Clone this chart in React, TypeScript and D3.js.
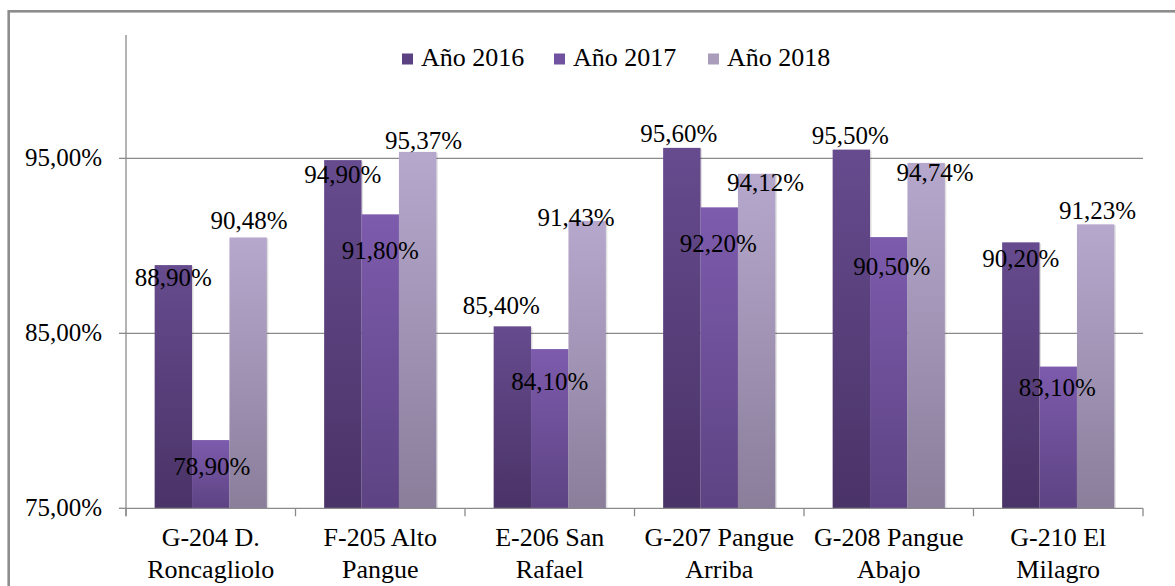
import React from 'react';
import * as d3 from 'd3';

// datos
const categories = [
  ['G-204 D.', 'Roncagliolo'],
  ['F-205 Alto', 'Pangue'],
  ['E-206 San', 'Rafael'],
  ['G-207 Pangue', 'Arriba'],
  ['G-208 Pangue', 'Abajo'],
  ['G-210 El', 'Milagro'],
];
const seriesNames = ['Año 2016', 'Año 2017', 'Año 2018'];
const values2016 = [88.9, 94.9, 85.4, 95.6, 95.5, 90.2];
const values2017 = [78.9, 91.8, 84.1, 92.2, 90.5, 83.1];
const values2018 = [90.48, 95.37, 91.43, 94.12, 94.74, 91.23];
const yTicks = [75, 85, 95];

// desplazamiento manual de las etiquetas (como en el original) [dx, dy] respecto al tope de la barra
const labelNudge = [
  [[0, 13], [0, 15], [-11, -20], [-3, -14], [-1, -14], [0, 17]],
  [[1, 27], [0, 37], [0, 33], [-1, 37], [3, 30], [-1, 21]],
  [[1, -16], [6, -11], [-11, -3], [9, 9], [9, 10], [2, -13]],
];

const colors = [
  { top: '#664b8e', bottom: '#4a3367', legend: '#5b4181' },
  { top: '#7d5bad', bottom: '#5d4383', legend: '#7152a0' },
  { top: '#b6a8cd', bottom: '#8a7e9b', legend: '#a99dbb' },
];

const fmt = (v: number) => v.toFixed(2).replace('.', ',') + '%';

const width = 1175;
const height = 586;
const left = 126;
const right = 1143;
const bottom = 508.3;
const top = 35;
const font = 'Liberation Serif';
const axisColor = '#8a8a8a';

const App = () => {
  const series = [values2016, values2017, values2018];

  const yScale = d3.scaleLinear().domain([75, 102.05]).range([bottom, top]);
  const xScale = d3.scaleBand<number>()
    .domain(categories.map((_, i) => i))
    .range([left, right])
    .padding(0);
  const groupWidth = xScale.bandwidth() * 0.662;
  const xSub = d3.scaleBand<number>().domain([0, 1, 2]).range([0, groupWidth]);
  const barX = (i: number, s: number) =>
    xScale(i)! + (xScale.bandwidth() - groupWidth) / 2 + xSub(s)!;

  return (
    <svg width={width} height={height} style={{ position: 'absolute', left: 0, top: 0 }}>
      <defs>
        {colors.map((c, i) => (
          <linearGradient key={i} id={'grad' + i} x1="0" y1="0" x2="0" y2="1">
            <stop offset="0%" stopColor={c.top} />
            <stop offset="100%" stopColor={c.bottom} />
          </linearGradient>
        ))}
      </defs>
      <rect width={width} height={height} fill="white" />

      {/* marco exterior */}
      <rect x={8.7} y={11.3} width={1300} height={800} fill="none" stroke="#8d8d8d" strokeWidth={2.6} />

      {/* cuadrícula */}
      {yTicks.slice(1).map(t => (
        <line key={t} x1={left} x2={right} y1={yScale(t)} y2={yScale(t)} stroke={axisColor} strokeWidth={1.3} />
      ))}

      {/* barras, con una sombra suave a la derecha */}
      {series.map((vals, s) => (
        <g key={s}>
          {vals.map((v, i) => (
            <g key={i}>
              <rect
                x={barX(i, s) + 1.5}
                y={yScale(v) + 1}
                width={xSub.bandwidth()}
                height={bottom - yScale(v) - 1}
                fill="#000"
                opacity={0.12}
              />
              <rect
                x={barX(i, s)}
                y={yScale(v)}
                width={xSub.bandwidth()}
                height={bottom - yScale(v)}
                fill={`url(#grad${s})`}
              />
            </g>
          ))}
        </g>
      ))}

      {/* eje Y */}
      <line x1={left} x2={left} y1={top} y2={bottom + 8} stroke={axisColor} strokeWidth={1.3} />
      {yTicks.map(t => (
        <g key={t}>
          <line x1={left - 7} x2={left} y1={yScale(t)} y2={yScale(t)} stroke={axisColor} strokeWidth={1.3} />
          <text x={102} y={yScale(t) + 8} textAnchor="end" fontFamily={font} fontSize={25} fill="#000">
            {fmt(t)}
          </text>
        </g>
      ))}

      {/* eje X */}
      <line x1={left} x2={right} y1={bottom} y2={bottom} stroke={axisColor} strokeWidth={1.3} />
      {d3.range(categories.length + 1).map(i => (
        <line
          key={i}
          x1={left + i * xScale.step()}
          x2={left + i * xScale.step()}
          y1={bottom}
          y2={bottom + 8}
          stroke={axisColor}
          strokeWidth={1.3}
        />
      ))}
      {categories.map((c, i) => {
        const cx = xScale(i)! + xScale.bandwidth() / 2;
        return (
          <text key={i} textAnchor="middle" fontFamily={font} fontSize={26} fill="#000">
            {c.map((line, k) => (
              <tspan key={k} x={cx} y={546 + k * 32}>{line}</tspan>
            ))}
          </text>
        );
      })}

      {/* etiquetas de datos */}
      {series.map((vals, s) => (
        <g key={s}>
          {vals.map((v, i) => (
            <text
              key={i}
              x={barX(i, s) + xSub.bandwidth() / 2 + labelNudge[s][i][0]}
              y={yScale(v) + labelNudge[s][i][1] + 8}
              textAnchor="middle"
              fontFamily={font}
              fontSize={25}
              fill="#000"
            >
              {fmt(v)}
            </text>
          ))}
        </g>
      ))}

      {/* leyenda */}
      {seriesNames.map((name, i) => {
        const lx = [402, 554, 708][i];
        return (
          <g key={name}>
            <rect x={lx} y={53.5} width={11} height={11} fill={colors[i].legend} />
            <text x={lx + 19} y={66} fontFamily={font} fontSize={26} fill="#000">{name}</text>
          </g>
        );
      })}
    </svg>
  );
};

export default App;
